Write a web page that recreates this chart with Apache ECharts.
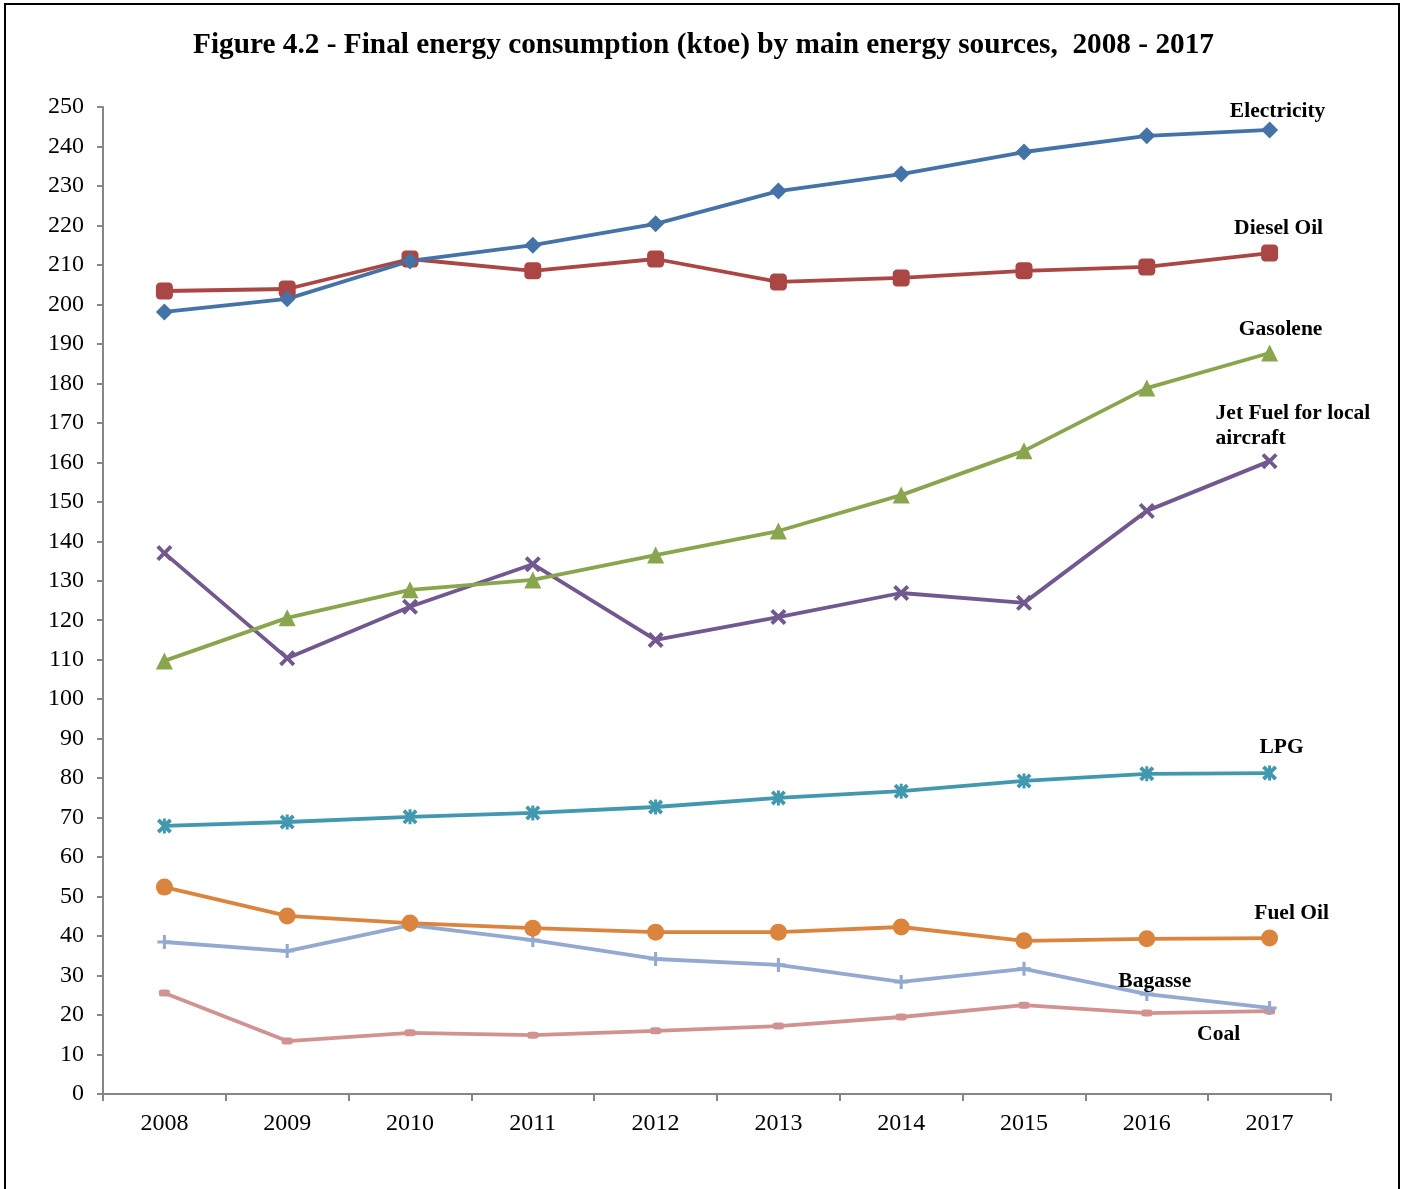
<!DOCTYPE html>
<html>
<head>
<meta charset="utf-8">
<script src="https://cdn.jsdelivr.net/npm/echarts@6/dist/echarts.min.js"></script>
<style>
  html, body { margin: 0; padding: 0; background: #fff; }
  #chart { width: 1407px; height: 1189px; }
</style>
</head>
<body>
<div id="chart"></div>
<script>
// Final energy consumption (ktoe) by main energy sources, 2008-2017
const years = ['2008', '2009', '2010', '2011', '2012', '2013', '2014', '2015', '2016', '2017'];

const electricity = [198.1, 201.4, 211.0, 215.0, 220.4, 228.7, 233.0, 238.6, 242.7, 244.2];
const dieselOil   = [203.4, 203.9, 211.5, 208.5, 211.5, 205.7, 206.7, 208.5, 209.5, 213.0];
const gasolene    = [109.7, 120.6, 127.7, 130.2, 136.5, 142.6, 151.7, 162.9, 178.8, 187.7];
const jetFuel     = [137.0, 110.4, 123.4, 134.2, 115.0, 120.8, 126.9, 124.4, 147.7, 160.3];
const lpg         = [67.9, 68.9, 70.2, 71.2, 72.7, 75.0, 76.7, 79.3, 81.1, 81.3];
const fuelOil     = [52.4, 45.1, 43.3, 42.0, 41.0, 41.0, 42.3, 38.8, 39.3, 39.5];
const bagasse     = [38.5, 36.2, 42.8, 39.0, 34.2, 32.7, 28.4, 31.7, 25.3, 21.8];
const coal        = [25.6, 13.4, 15.5, 14.9, 16.0, 17.2, 19.5, 22.5, 20.5, 21.0];

const yTicks = { min: 0, max: 250, interval: 10 };

const serif = '"Liberation Serif", "Times New Roman", serif';

// Marker shapes drawn as filled outlines
const SYM_X = 'path://M1.7,0 L5,3.3 L8.3,0 L10,1.7 L6.7,5 L10,8.3 L8.3,10 L5,6.7 L1.7,10 L0,8.3 L3.3,5 L0,1.7 Z';
const SYM_STAR = 'path://M1.8,0 L5,3.2 L8.2,0 L10,1.8 L6.8,5 L10,8.2 L8.2,10 L5,6.8 L1.8,10 L0,8.2 L3.2,5 L0,1.8 Z M4,0 L6,0 L6,10 L4,10 Z';
const SYM_PLUS = 'path://M3.9,0 L6.1,0 L6.1,3.9 L10,3.9 L10,6.1 L6.1,6.1 L6.1,10 L3.9,10 L3.9,6.1 L0,6.1 L0,3.9 L3.9,3.9 Z';

// Attach the series name as a text label to one of its points
function withLabel(values, idx, text, offset, align) {
  return values.map((v, i) => {
    if (i !== idx) return v;
    return {
      value: v,
      label: {
        show: true,
        formatter: text,
        position: 'inside',
        offset: offset,
        align: align || 'center',
        verticalAlign: 'middle',
        fontFamily: serif,
        fontWeight: 'bold',
        fontSize: 21.5,
        lineHeight: 25,
        color: '#000'
      }
    };
  });
}

function lineSeries(name, data, color, symbol, size) {
  return {
    name: name,
    type: 'line',
    data: data,
    symbol: symbol,
    symbolSize: size,
    showAllSymbol: true,
    lineStyle: { color: color, width: 3.8 },
    itemStyle: { color: color },
    emphasis: { disabled: true },
    z: 3
  };
}

const chart = echarts.init(document.getElementById('chart'));
chart.setOption({
  animation: false,
  backgroundColor: '#fff',
  title: {
    text: 'Figure 4.2 - Final energy consumption (ktoe) by main energy sources,  2008 - 2017',
    left: 'center',
    top: 26,
    textStyle: { fontFamily: serif, fontWeight: 'bold', fontSize: 29.3, color: '#000' }
  },
  grid: { left: 103, right: 76, top: 107, bottom: 95 },
  xAxis: {
    type: 'category',
    data: years,
    boundaryGap: true,
    axisLine: { lineStyle: { color: '#868686', width: 2 } },
    axisTick: { show: true, length: 7, lineStyle: { color: '#868686', width: 2 } },
    axisLabel: { fontFamily: serif, fontSize: 24, color: '#000', margin: 18 },
    splitLine: { show: false }
  },
  yAxis: {
    type: 'value',
    min: yTicks.min,
    max: yTicks.max,
    interval: yTicks.interval,
    axisLine: { show: true, lineStyle: { color: '#868686', width: 2 } },
    axisTick: { show: true, length: 6, lineStyle: { color: '#868686', width: 2 } },
    axisLabel: { fontFamily: serif, fontSize: 24, color: '#000', margin: 19 },
    splitLine: { show: false }
  },
  graphic: [{
    type: 'rect',
    shape: { x: 5, y: 4, width: 1394, height: 1200 },
    style: { fill: 'none', stroke: '#000', lineWidth: 2 },
    silent: true
  }],
  series: [
    lineSeries('Coal', withLabel(coal, 9, 'Coal', [-51, 23]), '#D19392', 'roundRect', [11, 7]),
    lineSeries('Bagasse', withLabel(bagasse, 8, 'Bagasse', [8, -13]), '#93A9CF', SYM_PLUS, 14),
    lineSeries('Fuel Oil', withLabel(fuelOil, 9, 'Fuel Oil', [22, -25]), '#DB843D', 'circle', 17),
    lineSeries('LPG', withLabel(lpg, 9, 'LPG', [12, -26]), '#4198AF', SYM_STAR, 15),
    lineSeries('Jet Fuel for local aircraft', withLabel(jetFuel, 9, 'Jet Fuel for local\naircraft', [-54, -35], 'left'), '#71588F', SYM_X, 16),
    lineSeries('Gasolene', withLabel(gasolene, 9, 'Gasolene', [11, -24]), '#89A54E', 'triangle', 17),
    lineSeries('Diesel Oil', withLabel(dieselOil, 9, 'Diesel Oil', [9, -25]), '#AA4643', 'roundRect', 17),
    lineSeries('Electricity', withLabel(electricity, 9, 'Electricity', [8, -18]), '#4572A7', 'diamond', 17)
  ]
});
</script>
</body>
</html>
